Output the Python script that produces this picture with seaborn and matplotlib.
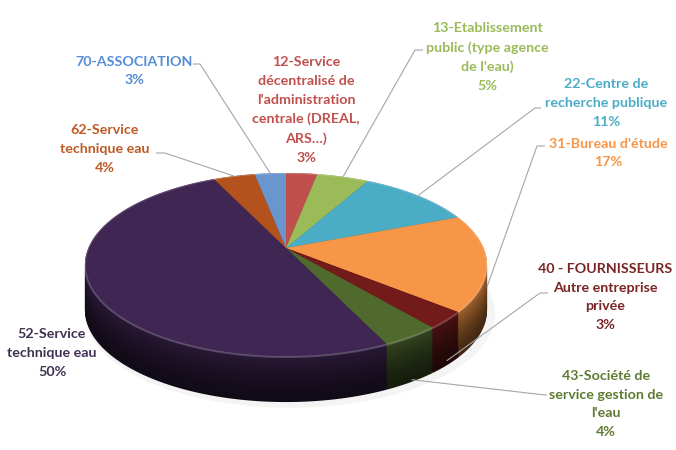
import numpy as np
import matplotlib
matplotlib.use("Agg")
import matplotlib.pyplot as plt
from matplotlib.patches import Polygon
import seaborn as sns

# --- data (clockwise from 12 o'clock) ---
categories = [
    "12-Service\ndécentralisé de\nl'administration\ncentrale (DREAL,\nARS…)",
    "13-Etablissement\npublic (type agence\nde l'eau)",
    "22-Centre de\nrecherche publique",
    "31-Bureau d'étude",
    "40 - FOURNISSEURS\nAutre entreprise\nprivée",
    "43-Société de\nservice gestion de\nl'eau",
    "52-Service\ntechnique eau",
    "62-Service\ntechnique eau",
    "70-ASSOCIATION",
]
shares = [3, 5, 11, 17, 3, 4, 50, 4, 3]

slice_colors = ["#C0504D", "#9BBB59", "#4BACC6", "#F79646", "#731A1A",
                "#506A2E", "#3F2653", "#B4521E", "#6996CF"]
text_colors = ["#C0504D", "#9BBB59", "#4BACC6", "#F79646", "#7B2424",
               "#5F7A32", "#403152", "#BE5A24", "#558ED5"]

# --- layout (pixels, origin top-left) ---
W, H = 676, 450
APX, APY = 286, 248          # pie centre as seen in perspective
PB = 0.1848                  # perspective strength
PK, PC = 88.9, 197.6         # vertical / horizontal radius factors
DEPTH = 45
label_pos = [(306, 110), (487, 57), (606, 103), (608, 153), (605, 297),
             (606, 404), (52, 353), (105, 149), (134, 71)]
# leader: (text side point, elbow point, depth fraction of anchor) or None
leaders = [None,
           ((423, 50), (415, 50), 0.0),
           ((541, 108), (535, 108), 0.0),
           ((545, 146), (537, 146), 0.55),
           ((548, 293), (540, 293), 0.9),
           ((547, 395), (545, 395), 0.95),
           None,
           ((156, 153), (165, 153), 0.0),
           ((193, 64), (200, 64), 0.0)]


def to_data(px, py):
    return px - APX, APY - py


def project(x, y, drop=0.0):
    d = 1 + PB * y
    return PC * x / d, PK * y / d - drop


sns.set_theme(style="white")
plt.rcParams["font.family"] = ["Lato", "DejaVu Sans"]

fig = plt.figure(figsize=(W / 100, H / 100), dpi=100)
ax = fig.add_axes([0, 0, 1, 1])
palette = sns.color_palette(slice_colors)

# wedge angles from the library's pie layout
wedges, _ = ax.pie(shares, colors=palette, startangle=90, counterclock=False,
                   radius=1, wedgeprops=dict(linewidth=0))
angles = [(w.theta1, w.theta2) for w in wedges]
for w in wedges:
    w.remove()


def wedge_poly(t1, t2, drop, color, z, scale=1.0):
    t = np.radians(np.linspace(t1, t2, max(int(abs(t2 - t1) * 2), 4)))
    xs = np.r_[0, scale * np.cos(t), 0]
    ys = np.r_[0, scale * np.sin(t), 0]
    px, py = project(xs, ys, drop)
    ax.add_patch(Polygon(np.column_stack([px, py]), closed=True,
                         facecolor=color, edgecolor="none", zorder=z))


# soft shadow
tt = np.linspace(0, 2 * np.pi, 300)
sx, sy = project(1.02 * np.cos(tt), 1.02 * np.sin(tt), DEPTH + 3)
ax.add_patch(Polygon(np.column_stack([sx + 4, sy]), closed=True,
                     facecolor="#b5b5b5", alpha=0.14, edgecolor="none",
                     zorder=0))

# side: stacked layers, darker toward the bottom
n_layers = 45
for k in range(n_layers):
    frac = k / (n_layers - 1)
    shade = 0.27 + 0.38 * frac ** 1.5
    for (t1, t2), c in zip(angles, palette):
        wedge_poly(t1, t2, DEPTH * (1 - frac), tuple(np.array(c) * shade),
                   1 + frac)

# top face
for (t1, t2), c in zip(angles, palette):
    wedge_poly(t1, t2, 0, c, 3)
rx, ry = project(np.cos(tt), np.sin(tt))
ax.plot(rx, ry, color="white", alpha=0.2, lw=1.4, zorder=4)

# labels and leader lines
for i, name in enumerate(categories):
    tx, ty = to_data(*label_pos[i])
    ax.text(tx, ty, f"{name}\n{shares[i]}%", ha="center", va="center",
            multialignment="center", color=text_colors[i], fontsize=10.3,
            fontweight="bold", linespacing=1.68, zorder=10)
    if leaders[i] is not None:
        p0, p1, dfrac = leaders[i]
        m = np.radians(sum(angles[i]) / 2)
        ax_, ay_ = project(np.cos(m), np.sin(m), dfrac * DEPTH)
        x0, y0 = to_data(*p0)
        x1, y1 = to_data(*p1)
        ax.plot([x0, x1, ax_], [y0, y1, ay_], color="#A6A6A6", lw=0.8,
                zorder=8, solid_capstyle="butt")

ax.set_aspect("auto")
ax.set_xlim(-APX, W - APX)
ax.set_ylim(APY - H, APY)
ax.axis("off")

fig.savefig("out.png", dpi=100)
